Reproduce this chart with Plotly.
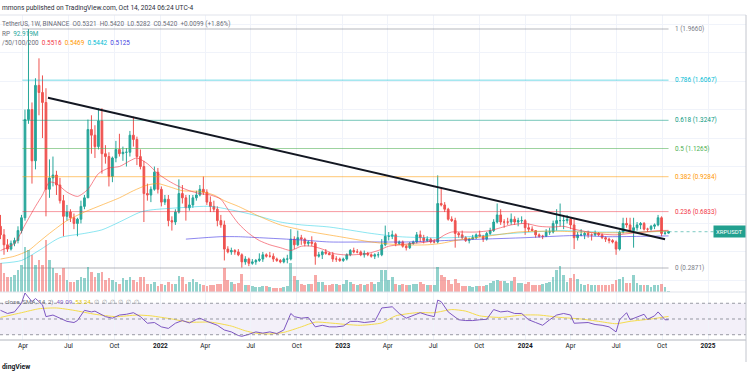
import plotly.graph_objects as go
import pandas as pd

# ---------------- data ----------------
start_week = "2021-02-01"
first_open = 0.37
closes = [
    0.43, 0.58, 0.52, 0.45, 0.42, 0.46, 0.48, 0.55, 0.64, 1.33,
    1.40, 1.04, 1.57, 1.52, 1.45, 0.84, 0.92, 0.94, 0.87, 0.76,
    0.65, 0.68, 0.64, 0.60, 0.63, 0.72, 0.78, 1.26, 1.22, 1.14,
    1.32, 1.09, 1.07, 0.93, 1.06, 1.12, 1.09, 1.10, 1.10, 1.22,
    1.19, 1.07, 1.00, 0.81, 0.80, 0.84, 0.96, 0.84, 0.75, 0.77,
    0.62, 0.61, 0.68, 0.81, 0.78, 0.71, 0.73, 0.78, 0.80, 0.84,
    0.82, 0.75, 0.72, 0.70, 0.62, 0.59, 0.42, 0.40, 0.41, 0.40,
    0.38, 0.33, 0.35, 0.32, 0.33, 0.34, 0.35, 0.38, 0.37, 0.37,
    0.35, 0.34, 0.33, 0.35, 0.35, 0.49, 0.45, 0.50, 0.49, 0.46,
    0.47, 0.46, 0.37, 0.38, 0.40, 0.39, 0.38, 0.35, 0.35, 0.34,
    0.35, 0.38, 0.41, 0.40, 0.40, 0.38, 0.39, 0.38, 0.37, 0.38,
    0.38, 0.45, 0.51, 0.51, 0.52, 0.46, 0.47, 0.44, 0.43, 0.46,
    0.47, 0.52, 0.50, 0.48, 0.49, 0.47, 0.47, 0.74, 0.73, 0.70,
    0.63, 0.62, 0.53, 0.52, 0.50, 0.48, 0.49, 0.50, 0.52, 0.51,
    0.49, 0.53, 0.55, 0.61, 0.66, 0.61, 0.61, 0.61, 0.63, 0.61,
    0.62, 0.62, 0.57, 0.56, 0.55, 0.52, 0.51, 0.51, 0.54, 0.54,
    0.60, 0.62, 0.62, 0.62, 0.63, 0.59, 0.50, 0.52, 0.52, 0.53,
    0.52, 0.52, 0.53, 0.52, 0.50, 0.49, 0.48, 0.47, 0.42, 0.54,
    0.60, 0.59, 0.55, 0.57, 0.59, 0.60, 0.56, 0.56, 0.58, 0.59,
    0.64, 0.53, 0.5321, 0.5420,
]
highs = [
    0.75, 0.62, 0.66, 0.56, 0.49, 0.48, 0.50, 0.58, 0.66, 1.40,
    1.966, 1.45, 1.62, 1.76, 1.64, 1.55, 1.05, 1.07, 0.97, 0.92,
    0.80, 0.73, 0.70, 0.67, 0.64, 0.76, 0.80, 1.33, 1.36, 1.29,
    1.41, 1.41, 1.15, 1.10, 1.07, 1.18, 1.23, 1.14, 1.13, 1.25,
    1.35, 1.21, 1.12, 1.04, 0.88, 0.86, 1.00, 0.99, 0.86, 0.80,
    0.80, 0.65, 0.70, 0.91, 0.87, 0.80, 0.80, 0.80, 0.83, 0.87,
    0.93, 0.84, 0.79, 0.76, 0.72, 0.66, 0.62, 0.44, 0.43, 0.42,
    0.42, 0.39, 0.37, 0.36, 0.35, 0.35, 0.39, 0.40, 0.39, 0.40,
    0.39, 0.36, 0.35, 0.36, 0.38, 0.56, 0.51, 0.55, 0.52, 0.50,
    0.48, 0.51, 0.47, 0.40, 0.41, 0.42, 0.40, 0.40, 0.37, 0.36,
    0.36, 0.39, 0.42, 0.43, 0.42, 0.41, 0.41, 0.40, 0.39, 0.39,
    0.40, 0.49, 0.585, 0.54, 0.55, 0.53, 0.48, 0.48, 0.45, 0.47,
    0.48, 0.54, 0.55, 0.52, 0.51, 0.50, 0.49, 0.938, 0.85, 0.75,
    0.71, 0.65, 0.64, 0.54, 0.55, 0.51, 0.50, 0.52, 0.53, 0.55,
    0.52, 0.54, 0.57, 0.63, 0.74, 0.70, 0.63, 0.64, 0.67, 0.65,
    0.64, 0.65, 0.63, 0.60, 0.58, 0.55, 0.53, 0.52, 0.56, 0.57,
    0.62, 0.70, 0.74, 0.65, 0.66, 0.64, 0.63, 0.54, 0.56, 0.54,
    0.55, 0.53, 0.55, 0.54, 0.53, 0.51, 0.50, 0.49, 0.48, 0.55,
    0.64, 0.64, 0.64, 0.64, 0.61, 0.61, 0.61, 0.57, 0.59, 0.60,
    0.66, 0.65, 0.55, 0.5420,
]
lows = [
    0.35, 0.42, 0.49, 0.38, 0.40, 0.41, 0.44, 0.46, 0.53, 0.62,
    1.30, 0.88, 0.98, 1.36, 1.20, 0.65, 0.78, 0.86, 0.80, 0.74,
    0.51, 0.62, 0.61, 0.56, 0.51, 0.60, 0.70, 0.78, 1.09, 1.06,
    1.12, 0.95, 1.02, 0.86, 0.89, 1.03, 1.07, 1.04, 1.00, 1.07,
    1.14, 1.01, 0.98, 0.61, 0.76, 0.75, 0.83, 0.81, 0.72, 0.73,
    0.58, 0.55, 0.59, 0.67, 0.74, 0.62, 0.69, 0.71, 0.76, 0.79,
    0.80, 0.73, 0.68, 0.68, 0.58, 0.57, 0.34, 0.39, 0.38, 0.38,
    0.37, 0.29, 0.31, 0.30, 0.31, 0.31, 0.33, 0.33, 0.36, 0.36,
    0.33, 0.33, 0.32, 0.32, 0.32, 0.34, 0.42, 0.44, 0.45, 0.44,
    0.44, 0.44, 0.31, 0.36, 0.35, 0.38, 0.38, 0.33, 0.33, 0.33,
    0.33, 0.34, 0.37, 0.39, 0.39, 0.37, 0.36, 0.37, 0.36, 0.35,
    0.36, 0.37, 0.44, 0.48, 0.49, 0.44, 0.45, 0.43, 0.41, 0.42,
    0.45, 0.46, 0.47, 0.46, 0.47, 0.46, 0.46, 0.46, 0.72, 0.68,
    0.62, 0.61, 0.43, 0.50, 0.49, 0.47, 0.46, 0.49, 0.49, 0.51,
    0.47, 0.48, 0.52, 0.54, 0.60, 0.59, 0.57, 0.59, 0.59, 0.59,
    0.58, 0.60, 0.52, 0.54, 0.55, 0.50, 0.50, 0.49, 0.51, 0.52,
    0.53, 0.55, 0.58, 0.56, 0.60, 0.56, 0.42, 0.48, 0.51, 0.49,
    0.50, 0.48, 0.51, 0.51, 0.49, 0.47, 0.46, 0.46, 0.38, 0.41,
    0.53, 0.57, 0.54, 0.43, 0.55, 0.56, 0.55, 0.54, 0.55, 0.56,
    0.58, 0.51, 0.52, 0.5282,
]
volumes = [  # millions of XRP per week
    4500, 4500, 4350, 2850, 2250, 2250, 2550, 3300, 4050, 6750,
    6300, 5550, 4050, 4800, 4050, 7800, 4800, 3600, 2850, 2550,
    3600, 1800, 1500, 1500, 1800, 2250, 2100, 3750, 3000, 2250,
    2850, 3000, 1800, 2100, 1800, 1500, 1200, 2100, 1800, 2250,
    1800, 1500, 2250, 2250, 1200, 1200, 1500, 900, 1200, 1050,
    1500, 1200, 1200, 2400, 2250, 1200, 1500, 1950, 1500, 1200,
    1050, 900, 1050, 1050, 1200, 1200, 3600, 1800, 1500, 1200,
    1350, 2700, 1050, 1050, 900, 750, 750, 900, 900, 750,
    600, 600, 600, 750, 900, 4350, 2400, 1800, 1200, 1050,
    1200, 1200, 2550, 1500, 1500, 1050, 1050, 1200, 1200, 1050,
    1200, 1800, 1500, 1200, 1050, 1200, 1050, 1200, 1500, 1200,
    1500, 3300, 3300, 1800, 2250, 1200, 1050, 1200, 1050, 1050,
    1200, 1200, 1500, 1200, 1050, 1050, 1050, 3750, 2550, 2250,
    1800, 1200, 1950, 1350, 900, 900, 900, 750, 900, 900,
    900, 1050, 1350, 1650, 1800, 1650, 1650, 1350, 1650, 2250,
    1350, 1350, 1200, 1500, 1050, 1050, 1050, 1200, 1350, 1500,
    2250, 3300, 3900, 2550, 1500, 2100, 2700, 1950, 1200, 1050,
    1200, 1050, 1050, 1050, 1050, 1050, 1050, 1200, 1800, 1950,
    2250, 1350, 1350, 2550, 1350, 1050, 1050, 1050, 750, 1050,
    1050, 1200, 750, 92.919,
]

# moving averages, read at sample weeks (week index, value)
ma20_idx = [2, 6, 9, 12, 14, 16, 18, 21, 24, 27, 30, 33, 36, 39, 41, 44, 47, 50, 53, 56,
            59, 62, 65, 67, 70, 73, 76, 79, 82, 85, 88, 91, 94, 97, 100, 103, 107, 110, 113,
            116, 120, 124, 127, 129, 131, 134, 138, 142, 145, 148, 152, 156, 160, 163, 166,
            170, 174, 178, 182, 186, 190, 193]
ma20_val = [0.41, 0.46, 0.59, 0.72, 0.80, 0.89, 0.88, 0.82, 0.79, 0.84, 0.95, 0.99, 1.00,
            1.04, 1.06, 1.02, 0.95, 0.90, 0.86, 0.83, 0.81, 0.80, 0.77, 0.70, 0.60, 0.53,
            0.48, 0.45, 0.43, 0.41, 0.44, 0.44, 0.42, 0.39, 0.38, 0.38, 0.39, 0.41, 0.44,
            0.45, 0.46, 0.47, 0.49, 0.52, 0.54, 0.54, 0.54, 0.55, 0.57, 0.59, 0.60, 0.58,
            0.575, 0.58, 0.56, 0.54, 0.525, 0.52, 0.53, 0.54, 0.55, 0.5516]
ma50_idx = [2, 6, 10, 13, 16, 21, 26, 31, 36, 40, 44, 47, 50, 54, 59, 63, 66, 70, 76, 82,
            88, 91, 99, 108, 116, 124, 128, 132, 138, 144, 150, 156, 162, 168, 174, 180,
            186, 193]
ma50_val = [0.35, 0.37, 0.41, 0.47, 0.53, 0.62, 0.68, 0.73, 0.78, 0.83, 0.87, 0.88, 0.86,
            0.83, 0.825, 0.80, 0.76, 0.72, 0.65, 0.59, 0.555, 0.54, 0.507, 0.47, 0.45, 0.45,
            0.46, 0.48, 0.50, 0.52, 0.54, 0.545, 0.545, 0.54, 0.535, 0.535, 0.54, 0.5469]
ma100_idx = [2, 8, 13, 19, 26, 31, 36, 42, 45, 53, 62, 70, 76, 82, 88, 96, 108, 116, 125,
             131, 140, 151, 162, 173, 183, 193]
ma100_val = [0.32, 0.34, 0.41, 0.50, 0.53, 0.555, 0.61, 0.68, 0.695, 0.71, 0.72, 0.685,
             0.65, 0.61, 0.59, 0.575, 0.53, 0.507, 0.50, 0.50, 0.515, 0.535, 0.55, 0.54,
             0.54, 0.5442]
ma200_idx = [55, 65, 70, 76, 88, 96, 108, 118, 129, 140, 152, 166, 176, 186, 193]
ma200_val = [0.49, 0.507, 0.507, 0.50, 0.484, 0.47, 0.47, 0.47, 0.48, 0.49, 0.50, 0.515,
             0.507, 0.51, 0.5125]

# RSI (14) and its SMA, read at sample weeks
rsi_idx = [2, 4, 6, 8, 9, 11, 12, 14, 15, 17, 19, 21, 23, 24, 26, 28, 29, 31, 32, 34, 36,
           38, 40, 42, 44, 46, 48, 50, 52, 54, 56, 58, 59, 61, 64, 66, 68, 70, 71, 73, 75,
           77, 79, 81, 83, 85, 86, 88, 90, 92, 94, 96, 98, 100, 102, 104, 106, 109, 111,
           114, 116, 118, 120, 122, 124, 126, 127, 128, 130, 133, 135, 137, 139, 141, 143,
           145, 147, 149, 151, 153, 155, 157, 159, 161, 163, 165, 166, 168, 170, 172, 174,
           176, 178, 179, 181, 182, 184, 186, 187, 189, 190, 192, 193]
rsi_val = [61, 57, 59, 70, 83, 72, 76, 68, 53, 55, 51, 47, 45.5, 48, 61, 59, 60, 55, 53, 51,
           55, 56, 58, 53, 44.6, 45.5, 40, 38, 44.6, 48, 45, 49.5, 51, 47, 42, 36, 33.6, 29,
           28, 30.5, 33.6, 32, 33.6, 31.5, 36, 57, 53, 51, 52, 40, 42, 40, 40, 41, 47, 47,
           45.5, 47, 64, 65.5, 57, 51, 55, 58, 55, 53, 74, 72, 59, 49, 48, 48, 49, 49.6, 62,
           59, 60, 57, 57, 49, 45.5, 42, 49, 55, 57, 55, 44.6, 44.6, 45.5, 43, 42, 40, 33.6,
           49, 58, 49, 53, 56, 49.6, 54, 59, 49, 49.09]
rsi_sma_idx = [2, 8, 13, 18, 23, 29, 35, 41, 45, 51, 56, 62, 68, 72, 75, 79, 83, 88, 92, 96,
               101, 105, 111, 115, 121, 126, 131, 135, 139, 145, 151, 156, 162, 168, 173,
               178, 182, 188, 193]
rsi_sma_val = [52, 58, 63, 64, 61, 56, 53, 55, 54, 50, 46, 46, 41, 35, 32, 31, 33, 40, 46,
               45, 43, 42, 45, 54, 58, 58, 62, 60, 54, 52, 55, 55, 52, 50, 47, 44, 47, 50,
               53.24]

# Fibonacci retracement
fib_ratios = ["1", "0.786", "0.618", "0.5", "0.382", "0.236", "0"]
fib_prices = [1.9660, 1.6067, 1.3247, 1.1265, 0.9284, 0.6833, 0.2871]
fib_start = "2021-03-31"
fib_end = "2024-10-14"

# trend line anchors
trend_dates = ["2021-05-21", "2024-10-07"]
trend_prices = [1.4835, 0.4887]

# time-axis ticks
tick_dates = ["2021-04-01", "2021-07-01", "2021-10-01", "2022-01-01", "2022-04-01",
              "2022-07-01", "2022-10-01", "2023-01-01", "2023-04-01", "2023-07-01",
              "2023-10-01", "2024-01-01", "2024-04-01", "2024-07-01", "2024-10-01",
              "2025-01-01"]
tick_text = ["Apr", "Jul", "Oct", "<b>2022</b>", "Apr", "Jul", "Oct", "<b>2023</b>", "Apr",
             "Jul", "Oct", "<b>2024</b>", "Apr", "Jul", "Oct", "<b>2025</b>"]

# ---------------- styles ----------------
UP = "#26a69a"
DOWN = "#ef5350"
FONT = "Roboto"
fib_colors = ["#787b86", "#00bcd4", "#089981", "#4caf50", "#ff9800", "#f23645", "#787b86"]
fib_line_colors = ["rgba(120,123,134,0.55)", "rgba(0,188,212,0.55)", "rgba(8,153,129,0.55)",
                   "rgba(76,175,80,0.55)", "rgba(255,152,0,0.55)", "rgba(242,54,69,0.5)",
                   "rgba(120,123,134,0.55)"]

dates = pd.date_range(start_week, periods=len(closes), freq="7D")
opens = [first_open] + closes[:-1]
vol_colors = ["rgba(38,166,154,0.5)" if c >= o else "rgba(239,83,80,0.5)"
              for o, c in zip(opens, closes)]

x_left = pd.Timestamp(start_week) + pd.Timedelta(days=13)
x_right = pd.Timestamp(start_week) + pd.Timedelta(days=1506)

fig = go.Figure()

# volume
fig.add_trace(go.Bar(x=dates, y=volumes, marker=dict(color=vol_colors, line_width=0),
                     width=0.78 * 7 * 86400000, xaxis="x", yaxis="y3", hoverinfo="skip"))

# fib levels
for r, p, c in zip(fib_ratios, fib_prices, fib_line_colors):
    fig.add_trace(go.Scatter(x=[fib_start, fib_end], y=[p, p], mode="lines",
                             line=dict(color=c, width=1), xaxis="x", yaxis="y",
                             hoverinfo="skip"))

# moving averages
def ma_trace(idx, vals, color):
    return go.Scatter(x=[dates[i] for i in idx], y=vals, mode="lines",
                      line=dict(color=color, width=1, shape="spline", smoothing=0.7),
                      xaxis="x", yaxis="y", hoverinfo="skip")

fig.add_trace(ma_trace(ma200_idx, ma200_val, "rgba(80,70,230,0.65)"))
fig.add_trace(ma_trace(ma100_idx, ma100_val, "rgba(0,200,225,0.45)"))
fig.add_trace(ma_trace(ma50_idx, ma50_val, "rgba(255,152,0,0.55)"))
fig.add_trace(ma_trace(ma20_idx, ma20_val, "rgba(242,54,69,0.6)"))

# candles
fig.add_trace(go.Candlestick(
    x=dates, open=opens, high=highs, low=lows, close=closes,
    increasing=dict(line=dict(color=UP, width=1), fillcolor=UP),
    decreasing=dict(line=dict(color=DOWN, width=1), fillcolor=DOWN),
    whiskerwidth=0, xaxis="x", yaxis="y", hoverinfo="skip"))

# trend line
fig.add_trace(go.Scatter(x=trend_dates, y=trend_prices, mode="lines",
                         line=dict(color="#131722", width=2), xaxis="x", yaxis="y",
                         hoverinfo="skip"))

# last price line
fig.add_trace(go.Scatter(x=[dates[-1], x_right], y=[closes[-1], closes[-1]], mode="lines",
                         line=dict(color="rgba(38,166,154,0.6)", width=1, dash="dot"),
                         xaxis="x", yaxis="y", hoverinfo="skip"))

# RSI
fig.add_trace(go.Scatter(x=[dates[i] for i in rsi_sma_idx], y=rsi_sma_val, mode="lines",
                         line=dict(color="#f5dc4c", width=1, shape="spline", smoothing=0.6),
                         xaxis="x2", yaxis="y2", hoverinfo="skip"))
fig.add_trace(go.Scatter(x=[dates[i] for i in rsi_idx], y=rsi_val, mode="lines",
                         line=dict(color="#7e57c2", width=1),
                         xaxis="x2", yaxis="y2", hoverinfo="skip"))

# ---------------- layout ----------------
H_PLOT = 325.0
def py(ypx):
    return (340 - ypx) / H_PLOT

split = py(292)
grid = "#f0f3fa"

shapes = [
    dict(type="rect", xref="paper", x0=0, x1=1, yref="y2", y0=30, y1=70,
         fillcolor="rgba(126,87,194,0.09)", line=dict(width=0), layer="below"),
]
for lvl in (70, 50, 30):
    shapes.append(dict(type="line", xref="paper", x0=0, x1=1, yref="y2", y0=lvl, y1=lvl,
                       line=dict(color="rgba(120,123,134,0.75)", width=1, dash="dot")))
shapes += [
    dict(type="line", xref="paper", x0=0, x1=1, yref="paper", y0=split, y1=split,
         line=dict(color="#e0e3eb", width=1)),
    dict(type="line", xref="paper", x0=0, x1=1, yref="paper", y0=0, y1=0,
         line=dict(color="#b2b5be", width=1)),
    dict(type="line", xref="paper", x0=0, x1=1, yref="paper", y0=1, y1=1,
         line=dict(color="#e0e3eb", width=1)),
    dict(type="line", xref="paper", x0=1, x1=1, yref="paper", y0=py(362), y1=1,
         line=dict(color="#c3c6ce", width=1)),
]

ann = []
def text_ann(txt, x, ypx, size=6.4, color="#50535e", anchor="left"):
    ann.append(dict(text=txt, xref="paper", yref="paper", x=x, y=py(ypx),
                    xanchor=anchor, yanchor="middle", showarrow=False,
                    font=dict(family=FONT, size=size, color=color)))

text_ann("mmons published on TradingView.com, Oct 14, 2024 06:24 UTC-4", 0, 8, 6.6, "#2a2e39")
text_ann("TetherUS, 1W, BINANCE&nbsp;&nbsp;O0.5321&nbsp;&nbsp;H0.5420&nbsp;&nbsp;L0.5282&nbsp;&nbsp;"
         "C0.5420&nbsp;&nbsp;+0.0099 (+1.86%)", 0, 23.5, 6.4, "#6a6d78")
text_ann("RP&nbsp;&nbsp;<span style='color:#26a69a'>92.919M</span>", 0, 33.5, 6.4, "#6a6d78")
text_ann("/50/100/200&nbsp;&nbsp;<span style='color:#f23645'>0.5516</span>&nbsp;&nbsp;"
         "<span style='color:#ff9800'>0.5469</span>&nbsp;&nbsp;"
         "<span style='color:#00bcd4'>0.5442</span>&nbsp;&nbsp;"
         "<span style='color:#3f3fe0'>0.5125</span>", 0, 42.5, 6.4, "#6a6d78")
text_ann(", close, SMA, 14, 2)&nbsp;&nbsp;<span style='color:#7e57c2'>49.09</span>&nbsp;&nbsp;"
         "<span style='color:#e6c800'>53.24</span>&nbsp;&nbsp;"
         "<span style='color:#9598a1'>∅&nbsp;&nbsp;∅&nbsp;&nbsp;∅&nbsp;&nbsp;∅&nbsp;&nbsp;∅&nbsp;&nbsp;∅</span>",
         0, 301.5, 6.2, "#6a6d78")
text_ann("<b>dingView</b>", 0, 367, 6.8, "#131722")

for r, p, c in zip(fib_ratios, fib_prices, fib_colors):
    ann.append(dict(text=f"{r} ({p:.4f})", x=fib_end, y=p, xref="x", yref="y",
                    xanchor="left", yanchor="middle", xshift=4, showarrow=False,
                    font=dict(family=FONT, size=6.4, color=c)))

ann.append(dict(text="XRPUSDT", xref="paper", x=1, yref="y", y=closes[-1],
                xanchor="right", yanchor="middle", showarrow=False,
                bgcolor="#22a08f", borderpad=2,
                font=dict(family=FONT, size=6.0, color="white")))

fig.update_layout(
    width=750, height=375,
    margin=dict(l=0, r=4, t=15, b=35),
    paper_bgcolor="white", plot_bgcolor="white",
    showlegend=False,
    bargap=0,
    hovermode=False,
    xaxis=dict(domain=[0, 1], anchor="y", range=[x_left, x_right], type="date",
               rangeslider=dict(visible=False), showticklabels=False,
               tickvals=tick_dates, showgrid=True, gridcolor=grid, gridwidth=1,
               zeroline=False, showline=False, ticks=""),
    xaxis2=dict(domain=[0, 1], anchor="y2", matches="x", range=[x_left, x_right], type="date",
                tickvals=tick_dates, ticktext=tick_text, showgrid=True, gridcolor=grid,
                tickfont=dict(family=FONT, size=6.5, color="#131722"), ticks="",
                ticklen=0, zeroline=False, showline=False),
    yaxis=dict(domain=[split, 1], range=[0.1185, 2.0644], showticklabels=False,
               tick0=0, dtick=0.2, showgrid=True, gridcolor=grid, zeroline=False,
               fixedrange=True),
    yaxis3=dict(overlaying="y", range=[0, 277 * 150], visible=False, fixedrange=True),
    yaxis2=dict(domain=[0, split], range=[23.3, 84.3], showticklabels=False,
                showgrid=False, zeroline=False),
    shapes=shapes,
    annotations=ann,
)

fig.write_html("out.html", config={"displayModeBar": False, "staticPlot": True},
               post_script="document.body.style.margin='0';document.body.style.overflow='hidden';")
